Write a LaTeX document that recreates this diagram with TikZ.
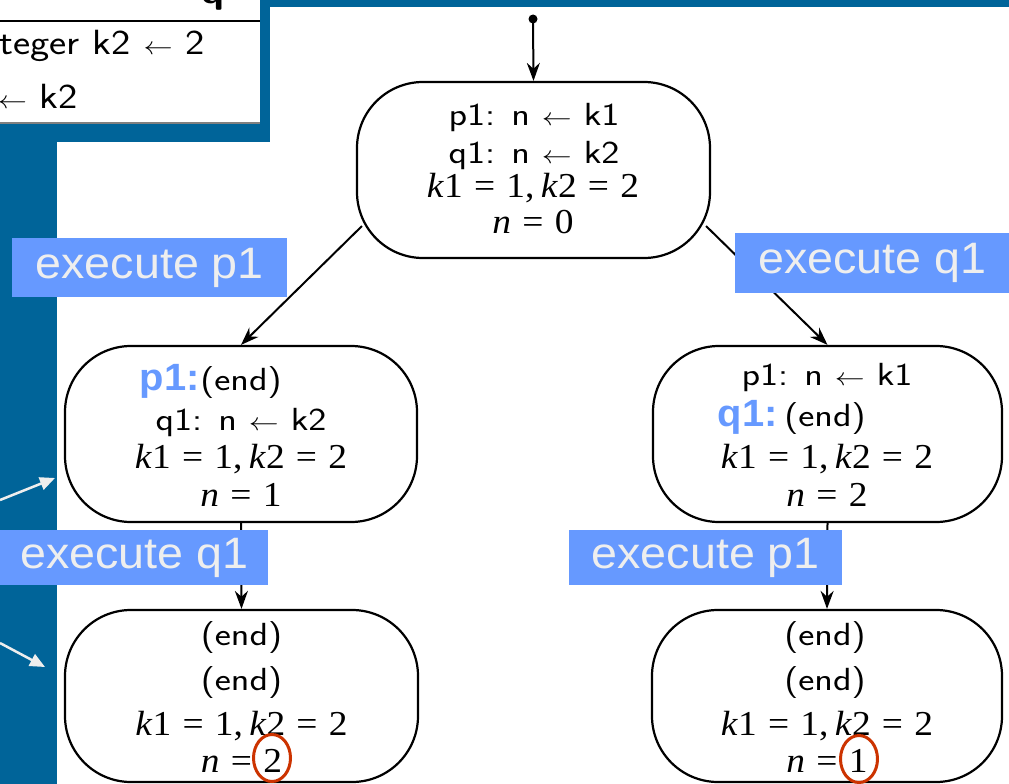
\documentclass[tikz,border=0pt]{standalone}
\usepackage{fontspec}
\usepackage{graphicx}
\usetikzlibrary{arrows.meta,shapes.geometric}

\newfontfamily\arial{Liberation Sans}
\newfontfamily\tms{Liberation Serif}

\definecolor{frameblue}{RGB}{0,100,153}
\definecolor{tagblue}{RGB}{102,153,255}
\definecolor{tagtext}{RGB}{238,238,238}
\definecolor{ring}{RGB}{204,51,0}

% program text, equations, valuations (set slightly wide)
\newcommand\prog[1]{\scalebox{1.2}[1]{\fontsize{32}{36}\selectfont\sffamily #1}}
\newcommand\tbl[1]{\scalebox{1.17}[1]{\fontsize{35}{40}\selectfont\sffamily #1}}
\newcommand\eqs[1]{\scalebox{1.07}[1]{\fontsize{35}{40}\tms #1}}
\newcommand\tagtxt[1]{\scalebox{1.06}[1]{\fontsize{44}{50}\arial #1}}
\newcommand\stmttxt[1]{\scalebox{1.05}[1]{\fontsize{38}{40}\arial\bfseries #1}}
\newcommand\eqsp{\hspace{0.3em}=\hspace{0.3em}}
\newcommand\kvals{\textit{k}1\eqsp 1,\hspace{0.17em}\textit{k}2\eqsp 2}
\newcommand\nval[1]{\textit{n}\eqsp #1}
\newcommand\lar{$\leftarrow$}

\tikzset{
  state/.style={draw, line width=2.2pt, rounded corners=66pt, inner sep=0pt},
  txt/.style={anchor=base, inner sep=0pt},
  stmt/.style={anchor=base east, inner sep=0pt, text=tagblue},
  edge/.style={line width=2pt, -{Stealth[length=18pt,width=13pt]}},
  pointer/.style={line width=2.5pt, draw=tagtext,
    -{Triangle[length=15pt,width=13pt]}},
  tag/.style={fill=tagblue, text=tagtext, inner sep=0pt, anchor=north west},
  ringmark/.style={draw=ring, line width=3pt, ellipse, inner sep=0pt,
    minimum width=37pt, minimum height=47pt}
}

\begin{document}
\begin{tikzpicture}[x=1pt,y=-1pt]
\useasboundingbox (0,0) rectangle (1009,784);

% slide frame and the program table in the corner
\fill[frameblue] (0,0) rectangle (1009,784);
\fill[white] (57,7) rectangle (1009,784);
\fill[frameblue] (0,0) rectangle (270,142);
\fill[white] (0,0) rectangle (260,123);
\draw[gray, line width=1.5pt] (0,123) -- (260,123);
\begin{scope}
  \clip (0,0) rectangle (260,123);
  \draw[line width=2.2pt] (0,21) -- (260,21);
  \node[anchor=base, inner sep=0pt] (qhead) at (213,4) {\tbl{\bfseries q}};
  \node[anchor=base east, inner sep=0pt] (decl) at (205,55) {\tbl{teger k2 \lar{} 2}};
  \node[anchor=base east, inner sep=0pt] (assign) at (78,108) {\tbl{\lar{} k2}};
\end{scope}

% states
\node[state, minimum width=353pt, minimum height=176pt] (top) at (533.5,170) {};
\node[state, minimum width=352pt, minimum height=176pt] (lm) at (241,434) {};
\node[state, minimum width=349pt, minimum height=176pt] (rm) at (827.5,434) {};
\node[state, minimum width=353pt, minimum height=172pt] (lb) at (241.5,696) {};
\node[state, minimum width=350pt, minimum height=172pt] (rb) at (827,696) {};

% initial state
\node[txt] (top1) at (534,125) {\prog{p1: n \lar{} k1}};
\node[txt] (top2) at (534,163) {\prog{q1: n \lar{} k2}};
\node[txt] (top3) at (533,197) {\eqs{\kvals}};
\node[txt] (top4) at (533,233) {\eqs{\nval{0}}};

% after p1
\node[txt] (lm1) at (241,390) {\prog{(end)}};
\node[stmt] (lm1s) at (200,390) {\stmttxt{p1:}};
\node[txt] (lm2) at (241,430) {\prog{q1: n \lar{} k2}};
\node[txt] (lm3) at (241,468) {\eqs{\kvals}};
\node[txt] (lm4) at (241,506) {\eqs{\nval{1}}};

% after q1
\node[txt] (rm1) at (827,385) {\prog{p1: n \lar{} k1}};
\node[txt] (rm2) at (825,426) {\prog{(end)}};
\node[stmt] (rm2s) at (778,426) {\stmttxt{q1:}};
\node[txt] (rm3) at (827,468) {\eqs{\kvals}};
\node[txt] (rm4) at (827,506) {\eqs{\nval{2}}};

% final states
\node[txt] (lb1) at (241.5,645) {\prog{(end)}};
\node[txt] (lb2) at (241.5,690) {\prog{(end)}};
\node[txt] (lb3) at (241.5,735) {\eqs{\kvals}};
\node[txt] (lb4) at (241.5,772) {\eqs{\nval{2}}};
\node[txt] (rb1) at (825,645) {\prog{(end)}};
\node[txt] (rb2) at (825,690) {\prog{(end)}};
\node[txt] (rb3) at (827,735) {\eqs{\kvals}};
\node[txt] (rb4) at (827,772) {\eqs{\nval{1}}};

\node[ringmark] (ringl) at (272,758) {};
\node[ringmark] (ringr) at (859,759) {};

% transitions
\coordinate (init) at (533,19);
\fill (init) circle (4.5pt);
\draw[edge] (init) -- (top.north);
\draw[edge] ([shift={(6,-33)}]top.south west) -- (lm.north);
\draw[edge] ([shift={(-5,-33)}]top.south east) -- (rm.north);
\draw[edge] (lm.south) -- (lb.north);
\draw[edge] (rm.south) -- (rb.north);

% pointers from the margin
\coordinate (ptr1) at (0,500);
\coordinate (ptr1end) at (55,478);
\coordinate (ptr2) at (0,643);
\coordinate (ptr2end) at (45,667);
\draw[pointer] (ptr1) -- (ptr1end);
\draw[pointer] (ptr2) -- (ptr2end);

% step labels
\node[tag, minimum width=275pt, minimum height=59pt] (stepa) at (12,238) {\tagtxt{execute p1}};
\node[tag, minimum width=274pt, minimum height=60pt] (stepb) at (735,233) {\tagtxt{execute q1}};
\node[tag, minimum width=268pt, minimum height=55pt] (stepc) at (0,530) {\tagtxt{execute q1}};
\node[tag, minimum width=273pt, minimum height=55pt] (stepd) at (569,530) {\tagtxt{execute p1}};
\end{tikzpicture}
\end{document}
